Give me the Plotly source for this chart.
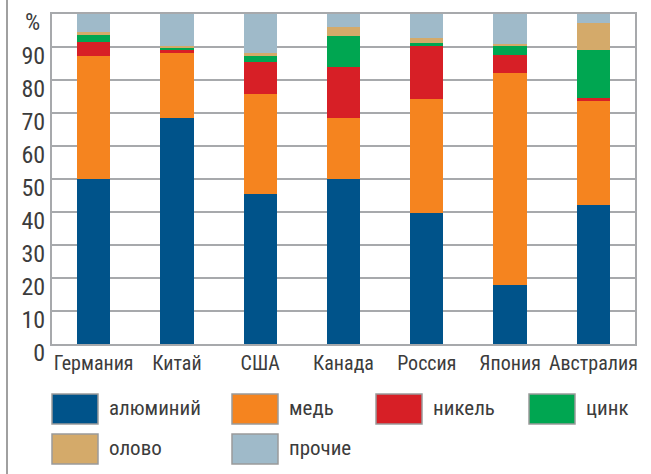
import plotly.graph_objects as go

countries = ["Германия", "Китай", "США", "Канада", "Россия", "Япония", "Австралия"]
aluminium = [50.0, 68.4, 45.4, 50.1, 39.8, 18.0, 42.1]
copper    = [37.4, 19.7, 30.4, 18.3, 34.4, 64.0, 31.6]
nickel    = [4.0, 1.0, 9.7, 15.6, 16.4, 5.6, 0.7]
zinc      = [2.1, 0.7, 1.9, 9.3, 0.6, 3.0, 14.7]
tin       = [1.1, 0.5, 0.8, 2.9, 1.5, 0.3, 8.3]
other     = [5.4, 9.7, 11.8, 3.8, 7.3, 9.1, 2.6]

series_names = ["алюминий", "медь", "никель", "цинк", "олово", "прочие"]
series_values = [aluminium, copper, nickel, zinc, tin, other]
colors = ["#00538a", "#f5841f", "#d71f26", "#00a651", "#d4aa6a", "#9fbac9"]

y_tickvals = [0, 10, 20, 30, 40, 50, 60, 70, 80, 90]
y_unit_label = "%"

FONT = "Roboto Condensed, Liberation Sans Narrow, sans-serif"
TXT = "#3c3c3c"
GRID = "#a7a9ac"

W, H = 651, 474
L, R, T, B = 52, 16, 14, 130
PW, PH = W - L - R, H - T - B

def px(x):
    return (x - L) / PW

def py(y):
    return (H - B - y) / PH

fig = go.Figure()
for name, vals, col in zip(series_names, series_values, colors):
    fig.add_trace(go.Bar(x=countries, y=vals, name=name,
                         marker=dict(color=col, line=dict(width=0)),
                         showlegend=False, hoverinfo="skip"))

shapes = []
annotations = []
# custom legend (box left x, box top y) in pixels
legend_pos = [(52, 394), (232, 394), (376, 394), (529, 394), (52, 434), (232, 434)]
for (lx, ly), name, col in zip(legend_pos, series_names, colors):
    shapes.append(dict(type="rect", xref="paper", yref="paper",
                       x0=px(lx), x1=px(lx + 46), y0=py(ly + 30), y1=py(ly),
                       fillcolor=col, line=dict(color="#9a9a9a", width=1.5)))
    annotations.append(dict(xref="paper", yref="paper", x=px(lx + 55), y=py(ly + 14),
                            text=name, showarrow=False, xanchor="left", yanchor="middle",
                            font=dict(family=FONT, size=21, color=TXT)))
# unit label at top of y axis
annotations.append(dict(xref="paper", yref="y", x=px(42), y=100, yshift=-8,
                        text=y_unit_label, showarrow=False, xanchor="right", yanchor="middle",
                        font=dict(family=FONT, size=24, color=TXT)))
# outer left frame line
shapes.append(dict(type="line", xref="paper", yref="paper",
                   x0=px(7), x1=px(7), y0=py(0), y1=py(H),
                   line=dict(color="#a0a0a0", width=2)))

fig.update_layout(
    width=W, height=H,
    margin=dict(l=L, r=R, t=T, b=B),
    paper_bgcolor="white", plot_bgcolor="white",
    barmode="stack", bargap=0.6,
    shapes=shapes, annotations=annotations,
    font=dict(family=FONT, size=22, color=TXT),
)
fig.update_xaxes(showgrid=False, showline=True, linecolor=GRID, linewidth=2, mirror=True,
                 ticks="", tickangle=0, automargin=False,
                 tickfont=dict(family=FONT, size=20, color=TXT))
fig.update_yaxes(range=[0, 100], tickvals=y_tickvals,
                 showgrid=True, gridcolor=GRID, gridwidth=1.5,
                 showline=True, linecolor=GRID, linewidth=2, mirror=True,
                 ticks="", ticklabelshift=9, automargin=False,
                 tickfont=dict(family=FONT, size=24, color=TXT), zeroline=False)

fig.write_html("out.html", config={"displayModeBar": False},
               post_script="document.body.style.margin='0';")
